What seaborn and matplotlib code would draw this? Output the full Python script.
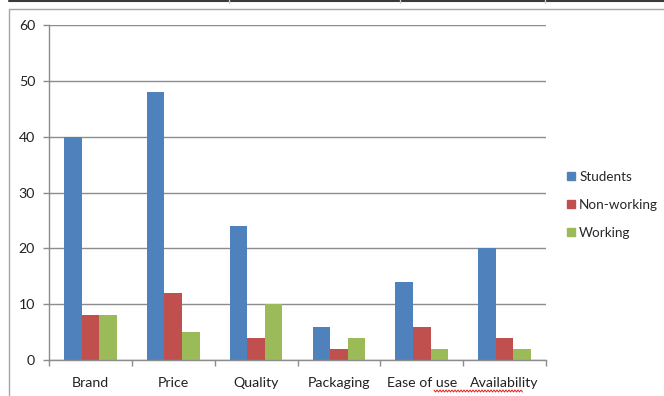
import numpy as np
import pandas as pd
import matplotlib
matplotlib.use("Agg")
import matplotlib.pyplot as plt
from matplotlib.lines import Line2D
import seaborn as sns

# Survey factors and responses per group
factors = ["Brand", "Price", "Quality", "Packaging", "Ease of use", "Availability"]
students = [40, 48, 24, 6, 14, 20]
non_working = [8, 12, 4, 2, 6, 4]
working = [8, 5, 10, 4, 2, 2]
groups = ["Students", "Non-working", "Working"]
y_ticks = [0, 10, 20, 30, 40, 50, 60]

colors = ["#4F81BD", "#C0504D", "#9BBB59"]

df = pd.DataFrame({
    "factor": factors * 3,
    "group": [groups[0]] * 6 + [groups[1]] * 6 + [groups[2]] * 6,
    "value": students + non_working + working,
})

sns.set_style("white")
plt.rcParams["font.family"] = ["Lato", "DejaVu Sans"]

W, H = 664, 396
fig = plt.figure(figsize=(W / 100, H / 100), dpi=100)
ax = fig.add_axes([49 / W, 1 - 360 / H, (546 - 49) / W, (360 - 25) / H])

sns.barplot(data=df, x="factor", y="value", hue="group", order=factors,
            hue_order=groups, palette=colors, width=0.635, gap=0,
            saturation=1, edgecolor="none", linewidth=0, ax=ax)

grid_c = "#8c8c8c"
fs = 10.2
ax.set_xlim(-0.5, 5.5)
ax.set_ylim(0, 60)
ax.set_yticks(y_ticks)
ax.yaxis.grid(True, color=grid_c, linewidth=1)
ax.set_axisbelow(True)
ax.set_xlabel("")
ax.set_ylabel("")
for s in ["top", "right"]:
    ax.spines[s].set_visible(False)
for s in ["left", "bottom"]:
    ax.spines[s].set_color(grid_c)
    ax.spines[s].set_linewidth(1)

ax.tick_params(axis="y", which="major", length=4, width=1, color=grid_c,
               pad=6, labelsize=fs, labelcolor="#222222", left=True)
ax.set_xticks(range(len(factors)))
ax.set_xticklabels(factors)
ax.set_xticks(np.arange(-0.5, 6, 1), minor=True)
ax.tick_params(axis="x", which="major", length=0, pad=12, labelsize=fs,
               labelcolor="#222222")
ax.tick_params(axis="x", which="minor", length=4, width=1, color=grid_c,
               bottom=True)

# Legend to the right of the plot
handles = [Line2D([0], [0], marker="s", linestyle="none", markersize=6,
                  markerfacecolor=c, markeredgecolor=c) for c in colors]
ax.legend(handles, groups, loc="center left",
          bbox_to_anchor=(567 / W, 1 - 205 / H), bbox_transform=fig.transFigure,
          frameon=False, fontsize=9.7, handlelength=0.6, handletextpad=0.3,
          labelspacing=1.2, borderaxespad=0, borderpad=0)

# Surrounding frame lines
fig.add_artist(Line2D([9 / W, 1], [1 - 1 / H, 1 - 1 / H], color="#3a3a3a",
                      linewidth=1.5, transform=fig.transFigure))
for xd in [229, 400, 545]:
    fig.add_artist(Line2D([xd / W, xd / W], [1 - 0 / H, 1 - 3 / H],
                          color="#d0d0d0", linewidth=1, transform=fig.transFigure))
fig.add_artist(Line2D([9 / W, 1], [1 - 9 / H, 1 - 9 / H], color="#a6a6a6",
                      linewidth=1, transform=fig.transFigure))
fig.add_artist(Line2D([9 / W, 9 / W], [1 - 9 / H, 0], color="#a6a6a6",
                      linewidth=1, transform=fig.transFigure))

# Spell-check squiggle under the last labels
xs = np.arange(434, 524, 1.5)
ys = 391 + np.where(np.arange(len(xs)) % 2 == 0, -1, 1)
fig.add_artist(Line2D(xs / W, 1 - ys / H, color="#e02020", linewidth=0.7,
                      transform=fig.transFigure))

fig.savefig("out.png", dpi=100)
